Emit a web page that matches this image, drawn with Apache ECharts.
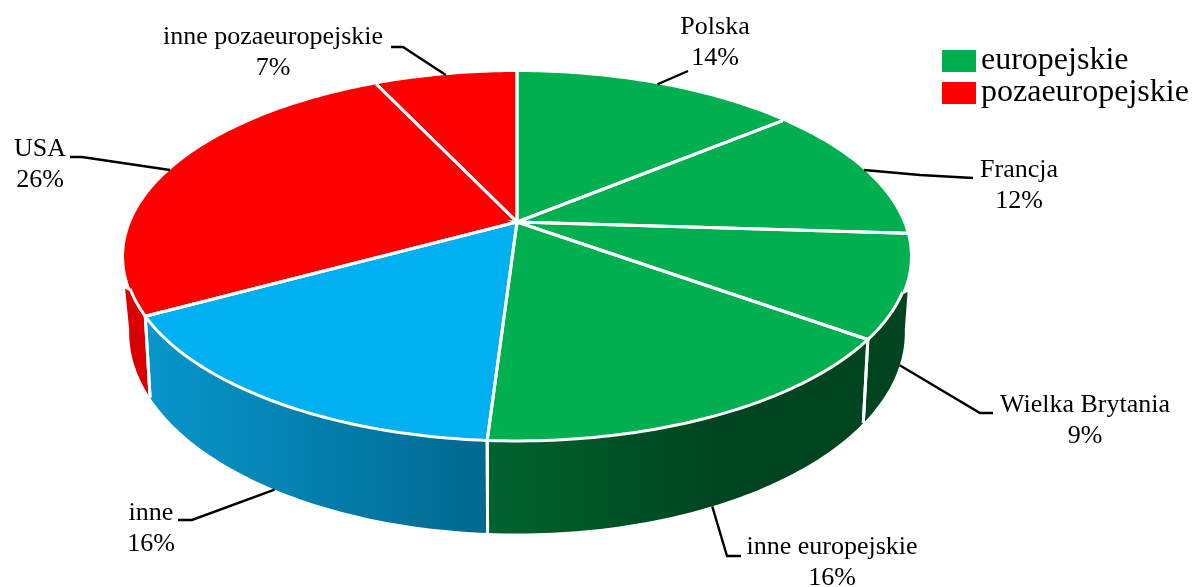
<!DOCTYPE html>
<html>
<head>
<meta charset="utf-8">
<style>html,body{margin:0;padding:0;background:#fff}#c{width:1196px;height:587px}</style>
<script src="https://cdn.jsdelivr.net/npm/echarts@6/dist/echarts.min.js"></script>
</head>
<body>
<div id="c"></div>
<script>
// ---- data ----
const categories = ['Polska', 'Francja', 'Wielka Brytania', 'inne europejskie', 'inne', 'USA', 'inne pozaeuropejskie'];
const values = [14, 12, 9, 16, 16, 26, 7];
const groups = ['europejskie', 'europejskie', 'europejskie', 'europejskie', 'inne', 'pozaeuropejskie', 'pozaeuropejskie'];
const legendNames = ['europejskie', 'pozaeuropejskie'];

// ---- styling and layout (not data) ----
const FONT = '"Liberation Serif", "Times New Roman", serif';
const topColors = { europejskie: '#00B050', pozaeuropejskie: '#FF0000', inne: '#00B0F0' };
const sideStops = {
  europejskie: { x: 487, x2: 720, from: '#00632F', to: '#00451F' },
  pozaeuropejskie: { x: 125, x2: 300, from: '#DC0000', to: '#C80000' },
  inne: { x: 146, x2: 487, from: '#0896CB', to: '#00688F' }
};
// Perspective projection of the unit disc: top face and bottom rim
const TOP = { cx: 517, cy: 222, A: 386, B: 178 };
const BOTTOM = { cx: 517, cy: 295, A: 381, B: 194 };
const P = 0.187;
const topVisible = [111.5, 249.5];
const bottomVisible = [100, 260];
const TIP_FLARE = 5; // the wall's upper tips stand slightly outside the rim
// text centre x, first line y, leader elbow and end, which rim the leader starts at
const labelLayout = [
  { x: 715, y: 27, line: [[688, 71]], rim: TOP },
  { x: 1019, y: 170, line: [[920, 175], [973, 178]], rim: TOP },
  { x: 1085, y: 405, line: [[980, 413], [993, 413]], rim: BOTTOM },
  { x: 832, y: 547, line: [[727, 556], [741, 556]], rim: BOTTOM },
  { x: 151, y: 513, line: [[192, 520], [178, 520]], rim: BOTTOM },
  { x: 40, y: 149, line: [[82, 157], [70, 157]], rim: TOP },
  { x: 273, y: 37, line: [[403, 47], [391, 47]], rim: TOP }
];

function project(rim, deg) {
  const t = deg * Math.PI / 180;
  const u = Math.sin(t), v = -Math.cos(t), d = 1 - P * v;
  return [rim.cx + rim.A * u / d, rim.cy + rim.B * v / d];
}
function arc(rim, a, b) {
  const n = Math.max(2, Math.ceil(Math.abs(b - a)));
  const pts = [];
  for (let i = 0; i <= n; i++) pts.push(project(rim, a + (b - a) * i / n));
  return pts;
}
const WHITE = { stroke: '#fff', lineWidth: 3, fill: null };

function renderSlice(params, api) {
  const a = api.value(0) * 3.6, b = api.value(1) * 3.6, idx = api.value(2);
  const g = groups[idx];
  const kids = [];
  // side wall
  const tA = Math.max(a, topVisible[0]), tB = Math.min(b, topVisible[1]);
  const bA = Math.max(a, bottomVisible[0]), bB = Math.min(b, bottomVisible[1]);
  if (bA < bB) {
    const s = sideStops[g];
    const topEdge = tA < tB ? arc(TOP, tA, tB) : [project(TOP, tB)];
    if (a < topVisible[0]) { const p = topEdge[0]; topEdge[0] = [p[0] + TIP_FLARE, p[1]]; }
    if (b > topVisible[1]) { const k = topEdge.length - 1, p = topEdge[k]; topEdge[k] = [p[0] - TIP_FLARE, p[1]]; }
    kids.push({
      type: 'polygon',
      shape: { points: topEdge.concat(arc(BOTTOM, bB, bA)) },
      style: {
        fill: { type: 'linear', global: true, x: s.x, y: 0, x2: s.x2, y2: 0,
                colorStops: [{ offset: 0, color: s.from }, { offset: 1, color: s.to }] }
      }
    });
    if (a >= topVisible[0] && a <= topVisible[1])
      kids.push({ type: 'polyline', z2: 2, shape: { points: [project(TOP, a), project(BOTTOM, a)] }, style: WHITE });
    if (b >= topVisible[0] && b <= topVisible[1])
      kids.push({ type: 'polyline', z2: 2, shape: { points: [project(TOP, b), project(BOTTOM, b)] }, style: WHITE });
  }
  // top face
  const apex = [TOP.cx, TOP.cy];
  const rimPts = arc(TOP, a, b);
  kids.push({ type: 'polygon', z2: 3, shape: { points: [apex].concat(rimPts) }, style: { fill: topColors[g] } });
  kids.push({ type: 'polyline', z2: 4, shape: { points: [rimPts[rimPts.length - 1], apex, rimPts[0]] }, style: WHITE });
  if (tA < tB) kids.push({ type: 'polyline', z2: 4, shape: { points: arc(TOP, tA, tB) }, style: WHITE });
  // leader and label
  const L = labelLayout[idx];
  const mid = project(L.rim, (a + b) / 2);
  kids.push({ type: 'polyline', z2: 5, shape: { points: [mid].concat(L.line) }, style: { stroke: '#000', lineWidth: 2.4, fill: null } });
  [categories[idx], values[idx] + '%'].forEach(function (t, i) {
    kids.push({ type: 'text', z2: 6, style: { text: t, x: L.x, y: L.y + i * 31, font: '26px ' + FONT, fill: '#000', align: 'center', verticalAlign: 'middle' } });
  });
  return { type: 'group', children: kids };
}

// cumulative slice bounds for each group, in percent
let acc = 0;
const bounds = values.map(function (v, i) { const r = [acc, acc + v, i]; acc += v; return r; });
const groupNames = ['europejskie', 'pozaeuropejskie', 'inne'];

const chart = echarts.init(document.getElementById('c'), null, { renderer: 'canvas' });
chart.setOption({
  backgroundColor: '#fff',
  animation: false,
  legend: {
    data: legendNames,
    orient: 'vertical',
    left: 942,
    top: 45,
    padding: 0,
    itemWidth: 34,
    itemHeight: 22,
    itemGap: 0,
    icon: 'rect',
    selectedMode: false,
    textStyle: { fontFamily: FONT, fontSize: 32, color: '#000', padding: [0, 0, 9, 0] }
  },
  series: groupNames.map(function (name) {
    return {
      type: 'custom',
      name: name,
      coordinateSystem: 'none',
      silent: true,
      itemStyle: { color: topColors[name] },
      renderItem: renderSlice,
      encode: { x: -1, y: -1 },
      data: bounds.filter(function (r) { return groups[r[2]] === name; })
    };
  })
});
</script>
</body>
</html>
